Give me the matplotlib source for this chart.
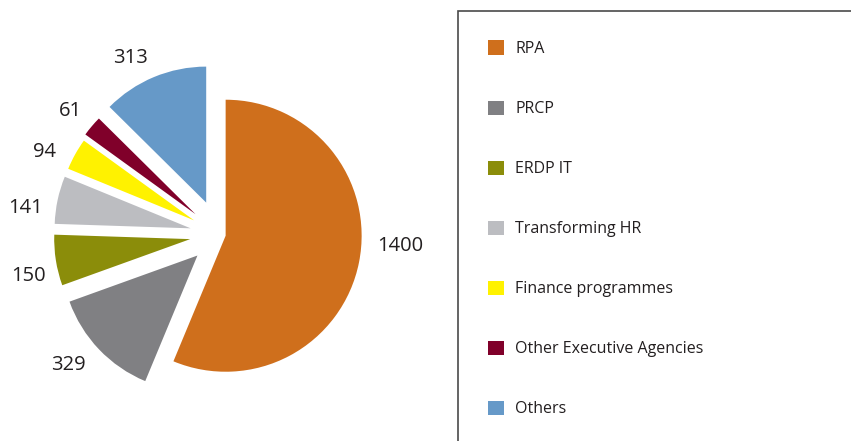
import matplotlib
matplotlib.use('Agg')
import matplotlib.pyplot as plt
from matplotlib.patches import Rectangle

plt.rcParams['font.family'] = ['Open Sans', 'DejaVu Sans']

# data
categories = ['RPA', 'PRCP', 'ERDP IT', 'Transforming HR', 'Finance programmes',
              'Other Executive Agencies', 'Others']
values = [1400, 329, 150, 141, 94, 61, 313]
colors = ['#CF6F1C', '#808083', '#8B8D0A', '#BCBDC1', '#FFF200', '#80002A', '#6699C8']
explode = [0.046, 0.224, 0.218, 0.217, 0.214, 0.231, 0.254]

# value label positions (pixels from top-left)
label_xy = [(400, 246), (68, 365), (28, 276), (26, 208), (44, 152), (70, 111), (131, 58)]

W, H = 851, 441
fig = plt.figure(figsize=(W / 100, H / 100), dpi=100)
ax = fig.add_axes([0, 0, 1, 1])

wedges, _ = ax.pie(values, colors=colors, explode=explode, startangle=90,
                   counterclock=False, radius=1.0,
                   wedgeprops=dict(linewidth=0))
# pie centre sits at pixel (219.5, 234.5), radius 136 px
cx, cy, scale = 219.5, 234.5, 136.0
ax.set_xlim(-cx / scale, (W - cx) / scale)
ax.set_ylim(-(H - cy) / scale, cy / scale)
ax.set_aspect('equal')
ax.axis('off')

text_color = '#231F20'
for v, (px, py) in zip(values, label_xy):
    fig.text(px / W, 1 - py / H, str(v), ha='center', va='center',
             fontsize=14.5, color=text_color)

# legend box (open to the right and bottom)
fig.add_artist(Rectangle((458 / W, -0.1), 1.0, 1.1 - 11 / H, fill=False,
                         edgecolor='#4a4a4a', linewidth=1.2,
                         transform=fig.transFigure))

leg = fig.legend(wedges, categories, loc='upper left',
                 bbox_to_anchor=(488 / W, 1 - 40.5 / H), frameon=False,
                 fontsize=11.5, handlelength=1.0, handleheight=1.0,
                 handletextpad=0.72, labelspacing=2.72, borderpad=0,
                 borderaxespad=0)
for t in leg.get_texts():
    t.set_color(text_color)

fig.savefig('out.png', dpi=100)
